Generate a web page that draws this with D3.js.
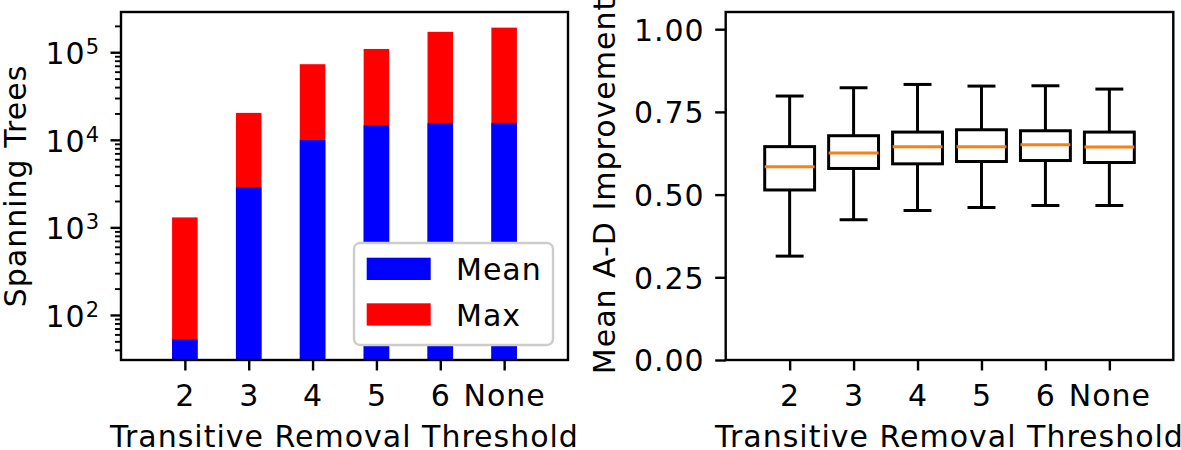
<!DOCTYPE html>
<html><head><meta charset="utf-8">
<script src="https://cdn.jsdelivr.net/npm/d3@7"></script>
<style>
body{margin:0;background:#fff;}
svg{display:block;font-family:"DejaVu Sans",sans-serif;}
svg text{letter-spacing:1px;}
</style></head>
<body>
<svg id="c" width="1181" height="450"></svg>
<script>
// ---- data ----
const categories = ["2","3","4","5","6","None"];
const meanTrees = [53, 2885, 9930, 14700, 15500, 15600];
const maxTrees  = [1300, 20300, 73000, 109000, 171000, 191000];
const logTickValues = [100, 1000, 10000, 100000];
const logTickExp = ["2","3","4","5"];

const whiskerLow  = [0.314, 0.424, 0.452, 0.461, 0.467, 0.467];
const q1          = [0.514, 0.579, 0.593, 0.600, 0.603, 0.597];
const medians     = [0.584, 0.626, 0.645, 0.645, 0.651, 0.644];
const q3          = [0.645, 0.678, 0.689, 0.696, 0.693, 0.689];
const whiskerHigh = [0.798, 0.823, 0.833, 0.828, 0.829, 0.819];
const boxTicks = [0, 0.25, 0.5, 0.75, 1.0];

const legendLabels = ["Mean","Max"];
const xTitle = "Transitive Removal Threshold";

(function(){
// ---- layout ----
const svg = d3.select("#c");
const FS = 30, LW = 2.4;
const yTop = 12, yBot = 360;
const L = {x0:121, x1:568};
const R = {x0:725.7, x1:1173.3};

// ---------- Left chart ----------
const xL = d3.scaleLinear().domain([-1, 6]).range([L.x0, L.x1]);
const yL = d3.scaleLog().domain([30.6, 288000]).range([yBot, yTop]);
const bw = 0.4;

const gL = svg.append("g");
gL.selectAll("rect.max").data(maxTrees).join("rect").attr("class","max")
  .attr("x",(d,i)=>xL(i-bw/2)).attr("width",xL(bw)-xL(0))
  .attr("y",d=>yL(d)).attr("height",d=>yBot-yL(d)).attr("fill","#ff0000");
gL.selectAll("rect.mean").data(meanTrees).join("rect").attr("class","mean")
  .attr("x",(d,i)=>xL(i-bw/2)).attr("width",xL(bw)-xL(0))
  .attr("y",d=>yL(d)).attr("height",d=>yBot-yL(d)).attr("fill","#0000ff");

// legend
const lg = svg.append("g");
lg.append("rect").attr("x",354).attr("y",243).attr("width",199).attr("height",102)
  .attr("rx",6).attr("fill","#fff").attr("stroke","#cccccc").attr("stroke-width",2.4);
const legColors = ["#0000ff","#ff0000"];
legendLabels.forEach((t,i)=>{
  lg.append("rect").attr("x",366.7).attr("y",257.7+i*45.6).attr("width",64).attr("height",22.3).attr("fill",legColors[i]);
  lg.append("text").attr("x",456).attr("y",280+i*45.6).attr("font-size",FS).text(t);
});

// minor log ticks
const minorVals = [];
for (let e=1;e<=5;e++) for (let m=2;m<=9;m++){ const v=m*Math.pow(10,e); if (v>=30.6 && v<=288000) minorVals.push(v); }
const yMinor = svg.append("g").attr("transform",`translate(${L.x0},0)`)
  .call(d3.axisLeft(yL).tickValues(minorVals).tickSize(6).tickFormat(""));
yMinor.select(".domain").remove();
yMinor.selectAll("line").attr("stroke-width",LW*0.8);
const yMajor = svg.append("g").attr("transform",`translate(${L.x0},0)`)
  .call(d3.axisLeft(yL).tickValues(logTickValues).tickSize(10.5).tickFormat(""));
yMajor.select(".domain").remove();
yMajor.selectAll("line").attr("stroke-width",LW);
logTickValues.forEach((v,i)=>{
  const t = svg.append("text").attr("x",100).attr("y",yL(v)+12).attr("text-anchor","end").attr("font-size",FS);
  t.append("tspan").text("10");
  t.append("tspan").attr("font-size",21).attr("dy",-10).text(logTickExp[i]);
});

// x axis left
const xAxL = svg.append("g").attr("transform",`translate(0,${yBot})`)
  .call(d3.axisBottom(xL).tickValues(d3.range(categories.length)).tickSize(10.5).tickFormat(i=>categories[i]));
xAxL.select(".domain").remove();
xAxL.selectAll("line").attr("stroke-width",LW);
xAxL.selectAll("text").attr("font-size",FS).attr("font-family","DejaVu Sans").attr("fill","#000").attr("y",45.5).attr("dy",0);

svg.append("rect").attr("x",L.x0).attr("y",yTop).attr("width",L.x1-L.x0).attr("height",yBot-yTop)
  .attr("fill","none").attr("stroke","#000").attr("stroke-width",LW);

svg.append("text").attr("x",(L.x0+L.x1)/2).attr("y",447).attr("text-anchor","middle").attr("font-size",FS).text(xTitle);
svg.append("text").attr("transform",`translate(26,${(yTop+yBot)/2}) rotate(-90)`).attr("text-anchor","middle").attr("font-size",FS).text("Spanning Trees");

// ---------- Right chart ----------
const xR = d3.scaleLinear().domain([0, 7]).range([R.x0, R.x1]);
const yR = d3.scaleLinear().domain([0, 1.052]).range([yBot, yTop]);
const boxW = 0.78, capW = 0.39;
const gR = svg.append("g").attr("stroke","#000").attr("stroke-width",3).attr("fill","none");
categories.forEach((c,i)=>{
  const cx = xR(i+1);
  const hw = (xR(boxW)-xR(0))/2, cw = (xR(capW)-xR(0))/2;
  gR.append("line").attr("x1",cx).attr("x2",cx).attr("y1",yR(whiskerLow[i])).attr("y2",yR(q1[i]));
  gR.append("line").attr("x1",cx).attr("x2",cx).attr("y1",yR(q3[i])).attr("y2",yR(whiskerHigh[i]));
  gR.append("line").attr("x1",cx-cw).attr("x2",cx+cw).attr("y1",yR(whiskerLow[i])).attr("y2",yR(whiskerLow[i])).attr("stroke-linecap","square");
  gR.append("line").attr("x1",cx-cw).attr("x2",cx+cw).attr("y1",yR(whiskerHigh[i])).attr("y2",yR(whiskerHigh[i])).attr("stroke-linecap","square");
  gR.append("rect").attr("x",cx-hw).attr("width",2*hw).attr("y",yR(q3[i])).attr("height",yR(q1[i])-yR(q3[i]));
  gR.append("line").attr("x1",cx-hw).attr("x2",cx+hw).attr("y1",yR(medians[i])).attr("y2",yR(medians[i])).attr("stroke","#ff7f0e");
});

const yAxR = svg.append("g").attr("transform",`translate(${R.x0},0)`)
  .call(d3.axisLeft(yR).tickValues(boxTicks).tickSize(10.5).tickFormat(d3.format(".2f")));
yAxR.select(".domain").remove();
yAxR.selectAll("line").attr("stroke-width",LW);
yAxR.selectAll("text").attr("font-size",FS).attr("font-family","DejaVu Sans").attr("fill","#000").attr("x",-21).attr("dy","0.36em");

const xAxR = svg.append("g").attr("transform",`translate(0,${yBot})`)
  .call(d3.axisBottom(xR).tickValues(d3.range(1,categories.length+1)).tickSize(10.5).tickFormat(i=>categories[i-1]));
xAxR.select(".domain").remove();
xAxR.selectAll("line").attr("stroke-width",LW);
xAxR.selectAll("text").attr("font-size",FS).attr("font-family","DejaVu Sans").attr("fill","#000").attr("y",45.5).attr("dy",0);

svg.append("rect").attr("x",R.x0).attr("y",yTop).attr("width",R.x1-R.x0).attr("height",yBot-yTop)
  .attr("fill","none").attr("stroke","#000").attr("stroke-width",LW);

svg.append("text").attr("x",(R.x0+R.x1)/2).attr("y",447).attr("text-anchor","middle").attr("font-size",FS).text(xTitle);
svg.append("text").attr("transform",`translate(615,${(yTop+yBot)/2}) rotate(-90)`).attr("text-anchor","middle").attr("font-size",FS).text("Mean A-D Improvement");
})();
</script>
</body></html>
